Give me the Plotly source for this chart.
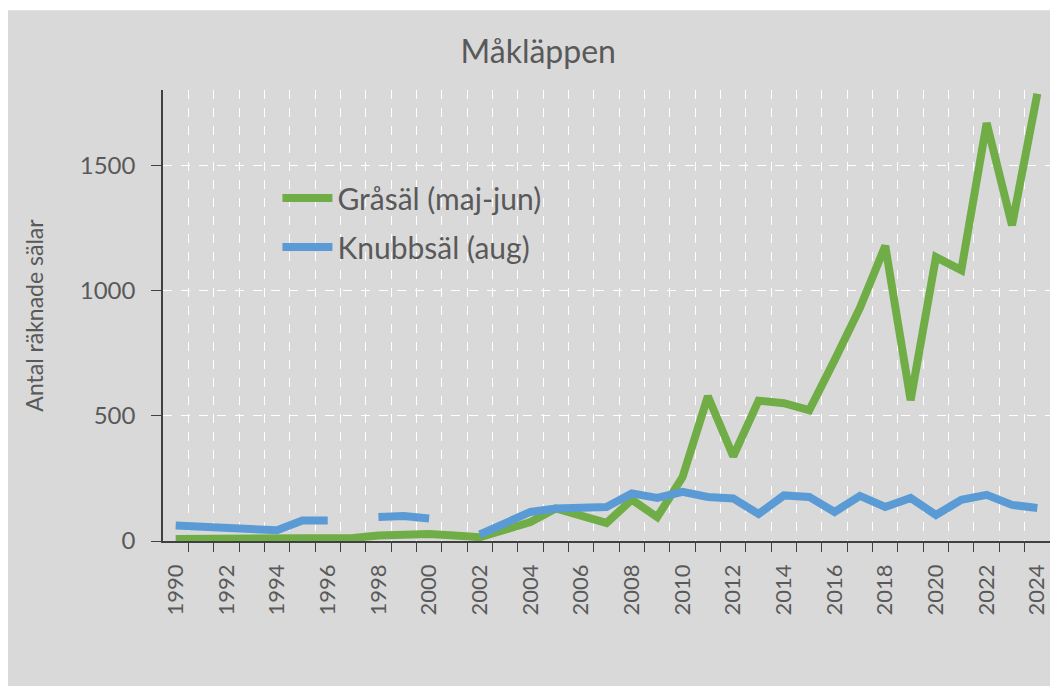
import plotly.graph_objects as go

# Sälräkning vid Måkläppen, 1990-2024
years = list(range(1990, 2025))

grasal = [8, 8, 8, 8, 6, 6, 8, 12, 22, 28, 28, 22, 15,
          45, 76, 130, 98, 72, 165, 95, 255, 578, 338, 560,
          550, 522, 722, 930, 1178, 562, 1133, 1081, 1668, 1260, 1785]

knubbsal = [62, 57, 53, 50, 43, 82, 82, None, 96, 100, 90, None, 26,
            72, 116, 130, 132, 136, 190, 172, 196, 176, 170, 108,
            182, 176, 116, 180, 136, 172, 104, 164, 184, 144, 132]

names = ["Gråsäl (maj-jun)", "Knubbsäl (aug)"]
colors = ["#70ad47", "#5b9bd5"]

yticks = [0, 500, 1000, 1500]
xticks = list(range(1990, 2025, 2))
bounds = [y + 0.5 for y in range(1990, 2024)]

txt = "#595959"
font = "Lato, 'Open Sans', sans-serif"

fig = go.Figure()
for i, vals in enumerate([grasal, knubbsal]):
    fig.add_trace(go.Scatter(
        x=years, y=vals, mode="lines", name=names[i],
        legendgroup=str(i), connectgaps=False,
        line=dict(color=colors[i], width=8),
    ))

# grå bakgrund (sidan har 8 px marginal runt figuren)
fig.add_shape(type="rect", xref="paper", yref="paper",
              x0=-0.175, x1=1.02, y0=-0.35, y1=1.177,
              fillcolor="#d9d9d9", line_width=0, layer="below")

fig.update_layout(
    width=1050, height=678,
    margin=dict(l=155, r=8, t=82, b=145),
    paper_bgcolor="white",
    plot_bgcolor="rgba(0,0,0,0)",
    font=dict(family=font, color=txt, size=20),
    title=dict(text="Måkläppen", x=0.505, xref="container", xanchor="center",
               y=0.935, yref="container", yanchor="middle",
               font=dict(size=32, color=txt)),
    showlegend=True,
    legend=dict(x=0.129, y=0.818, xanchor="left", yanchor="top",
                bgcolor="rgba(0,0,0,0)", font=dict(size=30, color=txt),
                traceorder="grouped", tracegroupgap=7, itemwidth=50),
)

fig.update_xaxes(
    range=[1989.5, 2024.5],
    tickvals=xticks, ticktext=[str(y) for y in xticks],
    tickangle=-90, tickfont=dict(size=22, color=txt),
    ticks="", ticklabelstandoff=13, showgrid=False, zeroline=False,
    showline=True, linecolor="#404040", linewidth=1.5,
    minor=dict(tickvals=bounds, ticks="outside", ticklen=9,
               tickcolor="#404040", tickwidth=1.2,
               showgrid=True, gridcolor="white", griddash="dash",
               gridwidth=1),
)

fig.update_yaxes(
    range=[0, 1800],
    tickvals=yticks, tickfont=dict(size=24, color=txt),
    ticks="outside", ticklen=10, tickcolor="#404040", tickwidth=1.2,
    ticklabelstandoff=11,
    showline=True, linecolor="#404040", linewidth=1.5,
    showgrid=True, gridcolor="white", griddash="dash", gridwidth=1,
    zeroline=False,
    title=dict(text="Antal räknade sälar", font=dict(size=23, color=txt),
               standoff=30),
)

fig.write_html("out.html")
